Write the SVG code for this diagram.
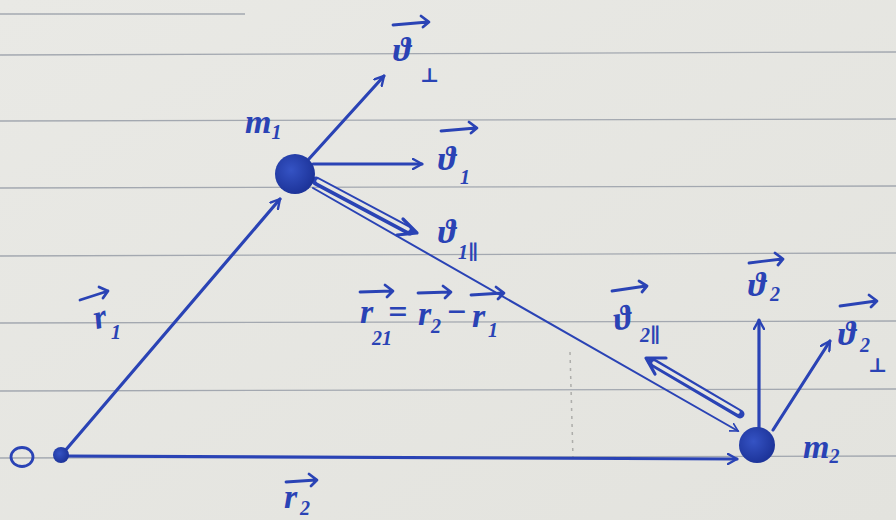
<svg xmlns="http://www.w3.org/2000/svg" width="896" height="520" viewBox="0 0 896 520">
<defs>
<linearGradient id="paper" x1="0" y1="0" x2="1" y2="1">
<stop offset="0" stop-color="#e9e9e5"/>
<stop offset="1" stop-color="#e3e3de"/>
</linearGradient>
<radialGradient id="ball" cx="0.4" cy="0.4" r="0.6">
<stop offset="0" stop-color="#3553c4"/>
<stop offset="1" stop-color="#1d349a"/>
</radialGradient>
<marker id="ah" viewBox="0 0 12 12" refX="10" refY="6" markerWidth="12" markerHeight="12" markerUnits="userSpaceOnUse" orient="auto">
<path d="M1,1 L10,6 L1,11" fill="none" stroke="#2a43b5" stroke-width="2.4" stroke-linecap="round" stroke-linejoin="round"/>
</marker>
<marker id="ahs" viewBox="0 0 12 12" refX="10" refY="6" markerWidth="10" markerHeight="10" markerUnits="userSpaceOnUse" orient="auto">
<path d="M1,1 L10,6 L1,11" fill="none" stroke="#2a43b5" stroke-width="2" stroke-linecap="round"/>
</marker>
</defs>
<style>
.ink{stroke:#2a43b5;fill:none;stroke-linecap:round;stroke-linejoin:round}
.vec{stroke-width:3.2}
.thin{stroke-width:2}
.rule{stroke:#a3a8b0;stroke-width:1.3}
.t{font-family:"Liberation Serif","DejaVu Serif",serif;font-style:italic;font-weight:bold;fill:#2a43b5;font-size:34px}
.s{font-family:"Liberation Serif","DejaVu Serif",serif;font-style:italic;font-weight:bold;fill:#2a43b5;font-size:20px}
.ov{stroke:#2a43b5;stroke-width:2.8;fill:none;stroke-linecap:round;stroke-linejoin:round}
</style>
<rect width="896" height="520" fill="url(#paper)"/>
<g id="paper-lines">
<line class="rule" x1="0" y1="14" x2="245" y2="14"/>
<line class="rule" x1="0" y1="55" x2="896" y2="52"/>
<line class="rule" x1="0" y1="121" x2="896" y2="119"/>
<line class="rule" x1="0" y1="188" x2="896" y2="186"/>
<line class="rule" x1="0" y1="256" x2="896" y2="253"/>
<line class="rule" x1="0" y1="323" x2="896" y2="321"/>
<line class="rule" x1="0" y1="391" x2="896" y2="389"/>
<line class="rule" x1="0" y1="458" x2="896" y2="456"/>
<line x1="570" y1="352" x2="573" y2="458" stroke="#8a8a88" stroke-width="1.5" stroke-dasharray="3 5" opacity="0.6"/>
</g>
<g id="connectors">
<path id="r1" class="ink vec" d="M64,452 L280,199" marker-end="url(#ah)"/>
<path id="r2" class="ink vec" d="M66,456 L737,459" marker-end="url(#ah)"/>
<path id="r21" class="ink thin" d="M313,188 L738,431" marker-end="url(#ahs)"/>
<path id="v1perp" class="ink vec" d="M308,160 L384,76" marker-end="url(#ah)"/>
<path id="v1" class="ink vec" d="M313,164 L422,164" marker-end="url(#ah)"/>
<g id="v1par">
<path d="M316,181 L410,231" stroke="#2a43b5" stroke-width="9" stroke-linecap="round" fill="none"/>
<path d="M318,181 L408,229" stroke="#e6e6e2" stroke-width="3.5" stroke-linecap="round" fill="none"/>
<path class="ink vec" d="M403,219 L417,233 L397,235"/>
</g>
<path id="v2" class="ink vec" d="M759,427 L759,320" marker-end="url(#ah)"/>
<path id="v2perp" class="ink vec" d="M773,430 L830,341" marker-end="url(#ah)"/>
<g id="v2par">
<path d="M740,414 L652,362" stroke="#2a43b5" stroke-width="9" stroke-linecap="round" fill="none"/>
<path d="M738,412 L654,363" stroke="#e6e6e2" stroke-width="3.5" stroke-linecap="round" fill="none"/>
<path class="ink vec" d="M666,358 L646,358 L655,374"/>
</g>
</g>
<g id="O">
<ellipse cx="22" cy="457" rx="11" ry="9.5" fill="none" stroke="#2a43b5" stroke-width="2.8"/>
<circle cx="61" cy="455" r="8" fill="url(#ball)"/>
</g>
<g id="m1">
<circle cx="295" cy="174" r="20" fill="url(#ball)"/>
<text class="t" x="245" y="133" font-size="30">m<tspan class="s" dy="6">1</tspan></text>
</g>
<g id="m2">
<circle cx="757" cy="445" r="18" fill="url(#ball)"/>
<text class="t" x="803" y="458" font-size="30">m<tspan class="s" dy="5">2</tspan></text>
</g>
<g id="label-v1perp">
<path class="ov" d="M393,25 L428,22 M421,16 L429,22 L423,27"/>
<text class="t" x="393" y="61">ϑ</text>
<text class="s" x="420" y="82" font-size="24" font-style="normal">⊥</text>
</g>
<g id="label-v1">
<path class="ov" d="M441,131 L476,128 M469,122 L477,128 L471,133"/>
<text class="t" x="438" y="170">ϑ</text>
<text class="s" x="460" y="184">1</text>
</g>
<g id="label-v1par">
<text class="t" x="438" y="243">ϑ</text>
<text class="s" x="458" y="259">1∥</text>
</g>
<g id="label-r21">
<path class="ov" d="M360,292 L392,291 M385,285 L393,291 L387,297"/>
<text class="t" x="360" y="323">r</text>
<text class="s" x="372" y="345">21</text>
<text class="t" x="388" y="323" font-style="normal">=</text>
<path class="ov" d="M418,293 L450,292 M443,286 L451,292 L445,298"/>
<text class="t" x="418" y="325">r</text>
<text class="s" x="431" y="333">2</text>
<text class="t" x="446" y="323" font-style="normal">−</text>
<path class="ov" d="M471,295 L503,293 M496,287 L504,293 L498,299"/>
<text class="t" x="472" y="327">r</text>
<text class="s" x="488" y="337">1</text>
</g>
<g id="label-r1">
<path class="ov" d="M80,300 L108,291 M99,287 L108,291 L103,298"/>
<text class="t" x="94" y="328" transform="rotate(-15 100 320)">r</text>
<text class="s" x="111" y="339">1</text>
</g>
<g id="label-r2">
<path class="ov" d="M286,482 L316,480 M309,474 L317,480 L311,486"/>
<text class="t" x="284" y="508">r</text>
<text class="s" x="300" y="515" font-size="17">2</text>
</g>
<g id="label-v2par">
<path class="ov" d="M612,291 L646,286 M639,281 L647,286 L642,292"/>
<text class="t" x="613" y="328" transform="rotate(-10 628 315)">ϑ</text>
<text class="s" x="640" y="342">2∥</text>
</g>
<g id="label-v2">
<path class="ov" d="M749,263 L782,259 M775,253 L783,259 L778,265"/>
<text class="t" x="748" y="296">ϑ</text>
<text class="s" x="770" y="301">2</text>
</g>
<g id="label-v2perp">
<path class="ov" d="M840,306 L876,301 M869,295 L877,301 L871,307"/>
<text class="t" x="838" y="345">ϑ</text>
<text class="s" x="860" y="352">2</text>
<text class="s" x="868" y="372" font-size="24" font-style="normal">⊥</text>
</g>
</svg>
